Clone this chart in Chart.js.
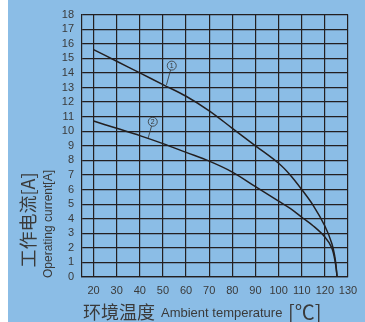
<!DOCTYPE html>
<html>
<head>
<meta charset="utf-8">
<script src="https://cdn.jsdelivr.net/npm/chart.js@4.4.0/dist/chart.umd.min.js"></script>
<style>
  html, body { margin: 0; padding: 0; background: #fff; }
  canvas { display: block; }
</style>
</head>
<body>
<canvas id="grafico" width="365" height="322"></canvas>
<script>
// Dados
var temperatura = [20, 30, 40, 50, 60, 70, 80, 90, 100, 105, 110, 115, 120, 123, 124.5, 125.3];
var corrente1 = [15.6, 14.8, 14.0, 13.2, 12.4, 11.4, 10.2, 9.0, 7.8, 7.0, 6.0, 4.9, 3.5, 2.3, 1.2, 0];
var corrente2 = [10.7, 10.2, 9.7, 9.15, 8.55, 7.95, 7.2, 6.2, 5.2, 4.7, 4.1, 3.5, 2.75, 2.0, 1.0, 0];
var xTicks = [20, 30, 40, 50, 60, 70, 80, 90, 100, 110, 120, 130];
var rotulos = ["1", "2"];

var corLinha = '#231f20';
var corTexto = '#3a3a3a';

function pontos(xs, ys) {
  return xs.map(function (x, i) { return { x: x, y: ys[i] }; });
}

// Fundo azul + faixa branca à esquerda
var fundoPlugin = {
  id: 'fundo',
  beforeDraw: function (chart) {
    var ctx = chart.ctx;
    ctx.save();
    ctx.fillStyle = '#8bbde6';
    ctx.fillRect(0, 0, chart.width, chart.height);
    ctx.fillStyle = '#ffffff';
    ctx.fillRect(0, 0, 8, chart.height);
    ctx.restore();
  }
};

// Marcadores circulados (1) e (2) com linha de chamada
var marcadorPlugin = {
  id: 'marcadores',
  afterDatasetsDraw: function (chart) {
    var ctx = chart.ctx;
    var xs = chart.scales.x, ys = chart.scales.y;
    var marcas = [
      { txt: rotulos[0], cx: 53.8, cy: 14.5, lx: 51.5, ly: 13.17 },
      { txt: rotulos[1], cx: 45.6, cy: 10.65, lx: 43.6, ly: 9.53 }
    ];
    ctx.save();
    marcas.forEach(function (m) {
      var px = xs.getPixelForValue(m.cx), py = ys.getPixelForValue(m.cy);
      var qx = xs.getPixelForValue(m.lx), qy = ys.getPixelForValue(m.ly);
      var r = 4.5;
      var ang = Math.atan2(qy - py, qx - px);
      ctx.strokeStyle = '#333';
      ctx.lineWidth = 0.8;
      ctx.beginPath();
      ctx.moveTo(px + r * Math.cos(ang), py + r * Math.sin(ang));
      ctx.lineTo(qx, qy);
      ctx.stroke();
      ctx.beginPath();
      ctx.arc(px, py, r, 0, Math.PI * 2);
      ctx.stroke();
      ctx.fillStyle = '#333';
      ctx.font = '7px "Liberation Sans", Arial, sans-serif';
      ctx.textAlign = 'center';
      ctx.textBaseline = 'middle';
      ctx.fillText(m.txt, px, py + 0.5);
    });
    ctx.restore();
  }
};

// Títulos dos eixos (chinês + inglês)
var titulosPlugin = {
  id: 'titulos',
  afterDraw: function (chart) {
    var ctx = chart.ctx;
    ctx.save();
    ctx.fillStyle = corTexto;
    ctx.textBaseline = 'middle';

    // eixo Y
    ctx.save();
    ctx.translate(28, 220);
    ctx.rotate(-Math.PI / 2);
    ctx.textAlign = 'center';
    ctx.font = '18px "Noto Sans CJK SC", sans-serif';
    ctx.fillText('工作电流[A]', 0, 0);
    ctx.restore();

    ctx.save();
    ctx.translate(49, 224);
    ctx.rotate(-Math.PI / 2);
    ctx.textAlign = 'center';
    ctx.font = '12px "Liberation Sans", Arial, sans-serif';
    ctx.fillText('Operating current[A]', 0, 0);
    ctx.restore();

    // eixo X
    var y = 312;
    ctx.textAlign = 'left';
    ctx.font = '18px "Noto Sans CJK SC", sans-serif';
    ctx.fillText('环境温度', 83, y);
    ctx.font = '13px "Liberation Sans", Arial, sans-serif';
    ctx.fillText('Ambient temperature', 161, y + 1);
    ctx.font = '20px "Noto Sans CJK SC", sans-serif';
    ctx.fillText('[℃]', 288, y);
    ctx.restore();
  }
};

var ctx = document.getElementById('grafico').getContext('2d');
new Chart(ctx, {
  type: 'scatter',
  data: {
    datasets: [
      { label: '1', data: pontos(temperatura, corrente1) },
      { label: '2', data: pontos(temperatura, corrente2) }
    ].map(function (ds) {
      ds.showLine = true;
      ds.borderColor = corLinha;
      ds.borderWidth = 1.5;
      ds.pointRadius = 0;
      ds.fill = false;
      ds.tension = 0.35;
      return ds;
    })
  },
  options: {
    responsive: false,
    animation: false,
    layout: { padding: { top: 9, right: 17, left: 0, bottom: 0 } },
    plugins: {
      legend: { display: false },
      tooltip: { enabled: false }
    },
    scales: {
      x: {
        type: 'linear',
        min: 15,
        max: 130,
        afterBuildTicks: function (scale) {
          scale.ticks = xTicks.map(function (v) { return { value: v }; });
        },
        afterFit: function (scale) { scale.height = 45; },
        ticks: {
          padding: 7,
          color: corTexto,
          font: { size: 11, family: '"Liberation Sans", Arial, sans-serif' },
          maxRotation: 0,
          autoSkip: false
        },
        grid: { color: corLinha, lineWidth: 1.2, drawTicks: false },
        border: { color: corLinha, width: 1.2 }
      },
      y: {
        min: 0,
        max: 18,
        afterFit: function (scale) { scale.width = 82; },
        ticks: {
          stepSize: 1,
          autoSkip: false,
          padding: 8,
          color: corTexto,
          font: { size: 11, family: '"Liberation Sans", Arial, sans-serif' }
        },
        grid: { color: corLinha, lineWidth: 1.2, drawTicks: false },
        border: { color: corLinha, width: 1.2 }
      }
    }
  },
  plugins: [fundoPlugin, marcadorPlugin, titulosPlugin]
});
</script>
</body>
</html>
